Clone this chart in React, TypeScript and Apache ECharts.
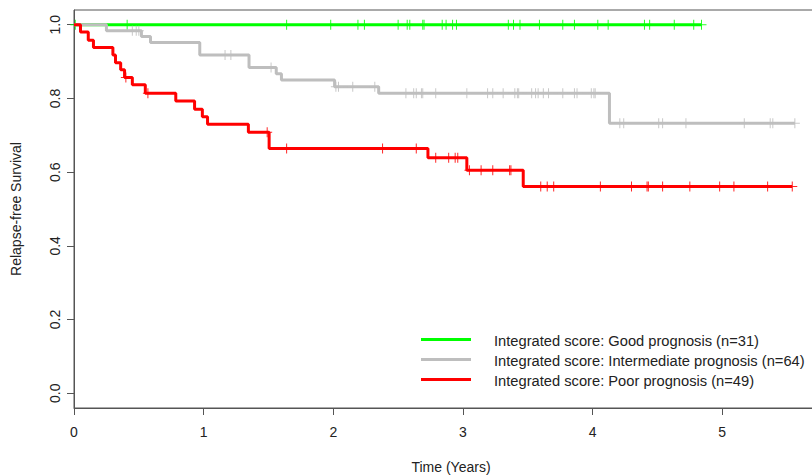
import React, { useEffect, useRef } from "react";
import * as echarts from "echarts";

// ---- Data ----
const xTicks = [0, 1, 2, 3, 4, 5];
const yTicks = [0, 0.2, 0.4, 0.6, 0.8, 1.0];

const seriesNames = [
  "Integrated score: Good prognosis (n=31)",
  "Integrated score: Intermediate prognosis (n=64)",
  "Integrated score: Poor prognosis (n=49)",
];

// Good prognosis: no events
const goodEventTimes: number[] = [];
const goodSurvival: number[] = [];
const goodCensorTimes = [
  0.01, 0.41, 1.64, 1.98, 2.19, 2.24, 2.5, 2.57, 2.59, 2.69, 2.7, 2.84, 2.87, 2.92, 2.95,
  3.35, 3.39, 3.44, 3.59, 3.77, 3.86, 4.04, 4.12, 4.4, 4.44, 4.63, 4.78, 4.84,
];

// Intermediate prognosis
const interEventTimes = [0.25, 0.52, 0.59, 0.97, 1.35, 1.56, 1.6, 2.01, 2.35, 4.13];
const interSurvival = [0.984, 0.968, 0.952, 0.918, 0.884, 0.867, 0.85, 0.832, 0.814, 0.733];
const interCensorTimes = [
  0.45, 0.48, 0.5, 1.165, 1.21, 1.52, 2.02, 2.04, 2.15, 2.32, 2.56, 2.62, 2.64, 2.68, 2.69,
  2.79, 3.03, 3.19, 3.23, 3.31, 3.4, 3.42, 3.43, 3.53, 3.56, 3.58, 3.62, 3.66, 3.77, 3.86,
  3.88, 3.99, 4.01, 4.02, 4.21, 4.24, 4.51, 4.54, 4.72, 5.17, 5.37, 5.39, 5.56,
];

// Poor prognosis
const poorEventTimes = [
  0.05, 0.11, 0.15, 0.3, 0.32, 0.36, 0.39, 0.45, 0.55, 0.785, 0.93, 0.99, 1.03, 1.345, 1.505,
  2.73, 3.03, 3.465,
];
const poorSurvival = [
  0.98, 0.958, 0.938, 0.918, 0.897, 0.878, 0.857, 0.837, 0.814, 0.793, 0.771, 0.75, 0.73,
  0.708, 0.664, 0.639, 0.605, 0.561,
];
const poorCensorTimes = [
  0.4, 0.57, 1.49, 1.64, 2.38, 2.64, 2.79, 2.89, 2.94, 2.96, 3.05, 3.14, 3.23, 3.36, 3.37,
  3.6, 3.65, 3.7, 4.06, 4.3, 4.42, 4.43, 4.54, 4.75, 4.98, 5.09, 5.35, 5.54,
];

const colors = ["#00ff00", "#bebebe", "#ff0000"];
const FONT = "'Liberation Sans', Arial, Helvetica, sans-serif";
const TEXT = "#222";
const AXIS = "#555";

function survAt(times: number[], surv: number[], t: number): number {
  let s = 1;
  for (let i = 0; i < times.length; i++) if (times[i] <= t) s = surv[i];
  return s;
}

function stepData(times: number[], surv: number[], censors: number[]) {
  const pts: number[][] = [[0, 1]];
  times.forEach((t, i) => pts.push([t, surv[i]]));
  const last = Math.max(...censors, ...(times.length ? times : [0]));
  pts.push([last, survAt(times, surv, last)]);
  return pts;
}

function censorData(times: number[], surv: number[], censors: number[]) {
  return censors.map((c) => [c, survAt(times, surv, c)]);
}

const PLUS = "path://M4.5,0h1v4.5h4.5v1h-4.5v4.5h-1v-4.5h-4.5v-1h4.5z";

export default function App() {
  const ref = useRef<HTMLDivElement>(null);
  useEffect(() => {
    if (!ref.current) return;
    const chart = echarts.init(ref.current, undefined, { renderer: "svg" });
    const groups = [
      { t: goodEventTimes, s: goodSurvival, c: goodCensorTimes },
      { t: interEventTimes, s: interSurvival, c: interCensorTimes },
      { t: poorEventTimes, s: poorSurvival, c: poorCensorTimes },
    ];
    const order = [1, 2, 0];
    const series: any[] = [];
    order.forEach((gi) => {
      const g = groups[gi];
      series.push({
        type: "line",
        name: seriesNames[gi],
        step: "end",
        data: stepData(g.t, g.s, g.c),
        showSymbol: false,
        symbol: "none",
        lineStyle: { color: colors[gi], width: 3 },
        z: 2 + gi,
        silent: true,
      });
      series.push({
        type: "scatter",
        name: seriesNames[gi] + " censored",
        data: censorData(g.t, g.s, g.c),
        symbol: PLUS,
        symbolSize: 10,
        itemStyle: { color: colors[gi], opacity: 0.85 },
        z: 2 + gi,
        silent: true,
      });
    });

    const legendY = [339.5, 359.5, 379.5];
    const graphic: any[] = [];
    seriesNames.forEach((name, i) => {
      graphic.push({
        type: "line",
        shape: { x1: 421, y1: legendY[i], x2: 471, y2: legendY[i] },
        style: { stroke: colors[i], lineWidth: 3 },
      });
      graphic.push({
        type: "text",
        x: 494,
        y: legendY[i] + 1,
        style: {
          text: name,
          font: `14.7px ${FONT}`,
          fill: TEXT,
          textAlign: "left",
          textVerticalAlign: "middle",
        },
      });
    });
    graphic.push({
      type: "text",
      x: 451,
      y: 467,
      style: {
        text: "Time (Years)",
        font: `14px ${FONT}`,
        fill: TEXT,
        textAlign: "center",
        textVerticalAlign: "middle",
      },
    });
    graphic.push({
      type: "text",
      x: 16,
      y: 209,
      rotation: Math.PI / 2,
      style: {
        text: "Relapse-free Survival",
        font: `14px ${FONT}`,
        fill: TEXT,
        textAlign: "center",
        textVerticalAlign: "middle",
      },
    });

    chart.setOption({
      animation: false,
      backgroundColor: "#ffffff",
      grid: {
        left: 74,
        right: -1,
        top: 10,
        bottom: 67,
        show: true,
        borderColor: AXIS,
        borderWidth: 1,
        backgroundColor: "transparent",
        containLabel: false,
        outerBoundsMode: "none",
      },
      xAxis: {
        type: "value",
        min: 0,
        max: 5.7,
        splitLine: { show: false },
        axisLine: { show: true, onZero: false, lineStyle: { color: AXIS, width: 1 } },
        axisTick: { show: true, length: 7, customValues: xTicks, lineStyle: { color: AXIS } },
        axisLabel: {
          customValues: xTicks,
          formatter: (v: number) => String(v),
          color: TEXT,
          fontFamily: FONT,
          fontSize: 14,
          margin: 17,
        },
      },
      yAxis: {
        type: "value",
        min: -0.04,
        max: 1.04,
        splitLine: { show: false },
        axisLine: { show: true, onZero: false, lineStyle: { color: AXIS, width: 1 } },
        axisTick: { show: true, length: 7, customValues: yTicks, lineStyle: { color: AXIS } },
        axisLabel: {
          customValues: yTicks,
          formatter: (v: number) => v.toFixed(1),
          color: TEXT,
          fontFamily: FONT,
          fontSize: 14,
          rotate: 90,
          margin: 12,
        },
      },
      series,
      graphic,
    });
    return () => chart.dispose();
  }, []);
  return (
    <div
      ref={ref}
      style={{ position: "fixed", left: 0, top: 0, width: 812, height: 475, background: "#fff" }}
    />
  );
}
